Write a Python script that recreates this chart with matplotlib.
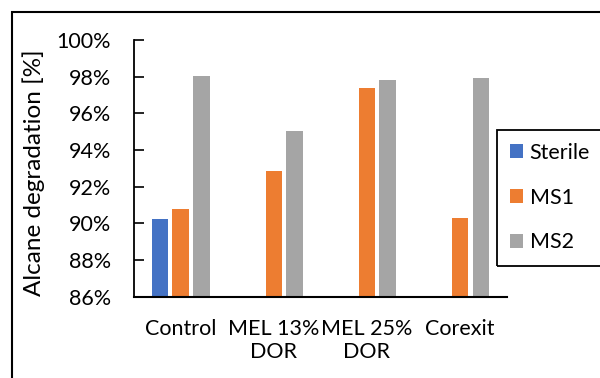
import numpy as np
import matplotlib
matplotlib.use("Agg")
import matplotlib.pyplot as plt
from matplotlib.patches import Rectangle, Patch
from matplotlib.ticker import FuncFormatter, MultipleLocator

categories = ["Control", "MEL 13%\nDOR", "MEL 25%\nDOR", "Corexit"]
series = ["Sterile", "MS1", "MS2"]
sterile = [90.24, np.nan, np.nan, np.nan]
ms1 = [90.80, 92.84, 97.37, 90.31]
ms2 = [98.06, 95.02, 97.82, 97.95]
colors = ["#4472C4", "#ED7D31", "#A5A5A5"]

plt.rcParams.update({"font.family": ["Lato", "DejaVu Sans"], "font.size": 15.5})

fig = plt.figure(figsize=(6, 3.78), dpi=100)
ax = fig.add_axes([134 / 600, 1 - 296.7 / 378, 372.7 / 600, 256.7 / 378])

x = np.arange(len(categories))
w = 0.177
step = 0.222
for i, (vals, c) in enumerate(zip([sterile, ms1, ms2], colors)):
    vals = np.asarray(vals, float)
    ok = ~np.isnan(vals)
    ax.bar(x[ok] + (i - 1) * step, vals[ok], w, color=c, edgecolor="none", zorder=2)

ax.set_xlim(-0.5, len(categories) - 0.5)
ax.set_ylim(86, 100)
ax.yaxis.set_major_locator(MultipleLocator(2))
ax.yaxis.set_major_formatter(FuncFormatter(lambda v, p: f"{v:.0f}%"))
ax.set_xticks(x)
ax.set_xticklabels(categories, linespacing=1.2)
ax.tick_params(axis="x", length=0, pad=16)
ax.tick_params(axis="y", direction="in", length=7, width=1.2, pad=16.5)
for s in ["top", "right"]:
    ax.spines[s].set_visible(False)
ax.spines["left"].set_linewidth(1.3)
ax.spines["bottom"].set_linewidth(1.5)
ax.set_ylabel("Alcane degradation [%]", fontsize=17.5)
ax.yaxis.set_label_coords(-0.238, 0.485)

handles = [Patch(facecolor=c, edgecolor="none") for c in colors]
leg = fig.legend(handles, series, loc="upper left", bbox_to_anchor=(497 / 600, 1 - 130 / 378),
                 frameon=False, handlelength=0.62, handleheight=0.62, handletextpad=0.3,
                 labelspacing=1.15, borderpad=0.6, borderaxespad=0, fontsize=15.5)

# legend box runs off the right edge, like the outer chart border
fig.patches.append(Rectangle((497 / 600, 1 - 266 / 378), 0.3, 136 / 378, transform=fig.transFigure,
                             fill=False, edgecolor="black", linewidth=1.3, clip_on=False))
fig.patches.append(Rectangle((12 / 600, -0.2), 1.2, 1.2 - 12 / 378, transform=fig.transFigure,
                             fill=False, edgecolor="black", linewidth=1.5, clip_on=False))

fig.savefig("out.png", dpi=100)
